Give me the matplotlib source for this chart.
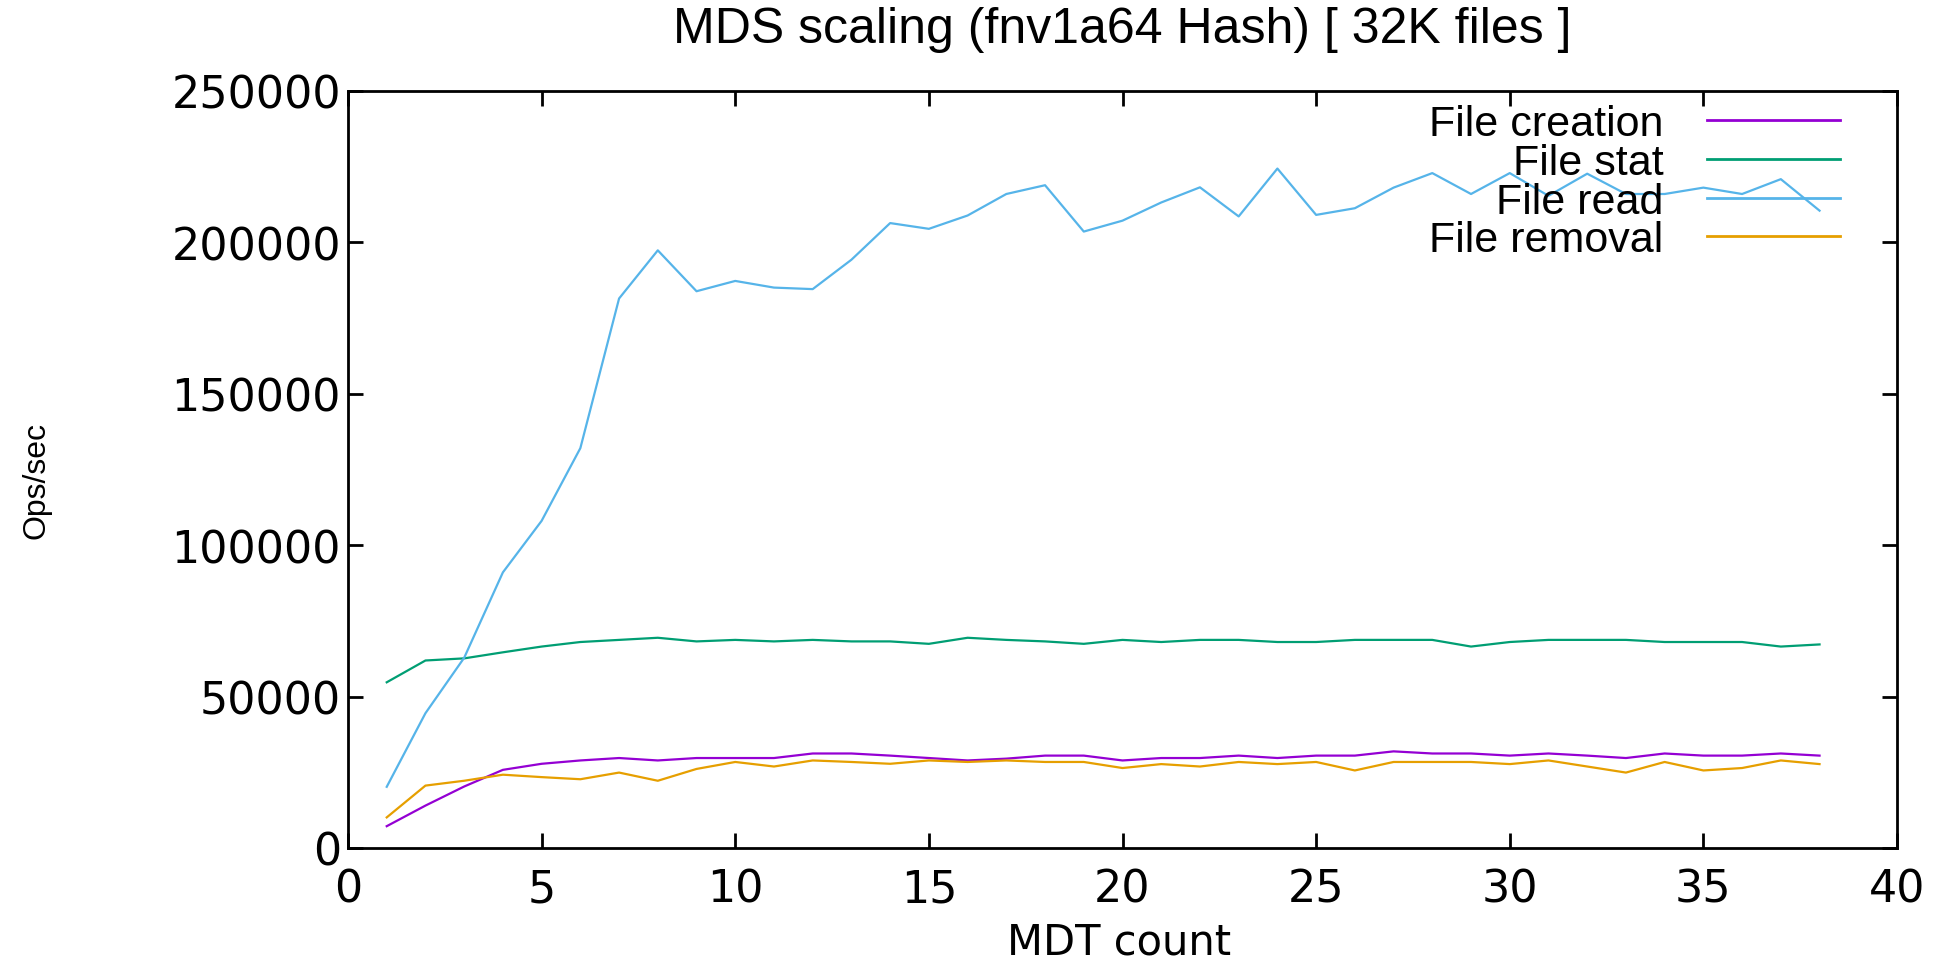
import matplotlib
matplotlib.use("Agg")
import matplotlib.pyplot as plt
from matplotlib.font_manager import FontProperties

# ---- data ----
mdt_count = list(range(1, 39))

file_creation = [7.2, 14.0, 20.3, 25.8, 27.8, 28.9, 29.7, 28.9, 29.7, 29.7,
                 29.7, 31.2, 31.2, 30.5, 29.7, 28.9, 29.5, 30.5, 30.5, 28.9,
                 29.7, 29.7, 30.5, 29.7, 30.5, 30.5, 31.9, 31.2, 31.2, 30.5,
                 31.2, 30.5, 29.7, 31.2, 30.5, 30.5, 31.2, 30.5]
file_stat = [54.7, 61.9, 62.6, 64.6, 66.5, 68.0, 68.7, 69.4, 68.2, 68.7,
             68.2, 68.7, 68.2, 68.2, 67.4, 69.4, 68.7, 68.2, 67.4, 68.7,
             68.0, 68.7, 68.7, 68.0, 68.0, 68.7, 68.7, 68.7, 66.5, 68.0,
             68.7, 68.7, 68.7, 68.0, 68.0, 68.0, 66.5, 67.2]
file_read = [20.2, 44.5, 62.8, 91.0, 108.0, 132.0, 181.4, 197.3, 183.8, 187.2,
             185.0, 184.5, 194.2, 206.3, 204.4, 208.8, 215.9, 218.8, 203.5, 207.1,
             213.1, 218.1, 208.5, 224.3, 209.0, 211.2, 218.0, 222.8, 215.9, 222.8,
             215.3, 222.6, 215.9, 215.9, 218.0, 215.9, 220.8, 210.4]
file_removal = [10.1, 20.6, 22.2, 24.2, 23.4, 22.7, 24.9, 22.2, 26.1, 28.4,
                26.9, 28.9, 28.4, 27.8, 28.9, 28.4, 28.9, 28.4, 28.4, 26.4,
                27.7, 26.9, 28.4, 27.7, 28.4, 25.6, 28.4, 28.4, 28.4, 27.7,
                28.9, 26.9, 24.9, 28.4, 25.6, 26.4, 28.9, 27.7]

series_labels = ["File creation", "File stat", "File read", "File removal"]
series_colors = ["#9400d3", "#009e73", "#56b4e9", "#e69f00"]

x_ticks = [0, 5, 10, 15, 20, 25, 30, 35, 40]
y_ticks = [0, 50000, 100000, 150000, 200000, 250000]

title_text = "MDS scaling (fnv1a64 Hash) [ 32K files ]"
x_label = "MDT count"
y_label = "Ops/sec"

# ---- figure ----
fig = plt.figure(figsize=(19.34, 9.62), dpi=100)
ax = fig.add_axes([348 / 1934, 1 - 849 / 962, 1549 / 1934, 757.3 / 962])

all_series = [file_creation, file_stat, file_read, file_removal]
for vals, lab, col in zip(all_series, series_labels, series_colors):
    ax.plot(mdt_count, [v * 1000 for v in vals], color=col, lw=1.6, label=lab)

ax.set_xlim(0, 40)
ax.set_ylim(0, 250000)
ax.set_xticks(x_ticks)
ax.set_yticks(y_ticks)
ax.set_xticklabels([str(t) for t in x_ticks], family="DejaVu Sans", fontsize=32)
ax.set_yticklabels([str(t) for t in y_ticks], family="DejaVu Sans", fontsize=32)

for s in ax.spines.values():
    s.set_linewidth(2)
    s.set_color("black")

ax.tick_params(axis="both", direction="in", length=11, width=2,
               top=True, right=True, color="black")
ax.tick_params(axis="x", pad=14)
ax.tick_params(axis="y", pad=5)

ax.set_xlabel(x_label, family="DejaVu Sans", fontsize=30)
ax.xaxis.set_label_coords(0.498, -0.123)
ax.xaxis.label.set_va("center")

ylab_fp = FontProperties(family="Liberation Sans", size=23)
ax.set_ylabel(y_label, fontproperties=ylab_fp)
ax.yaxis.label.set_fontproperties(ylab_fp)
ax.yaxis.set_label_coords(-0.2008, 0.487)
ax.yaxis.label.set_va("center")

ax.set_title(title_text, family="Liberation Sans", fontsize=36, y=1.071, va="center")

leg = ax.legend(loc="upper right", bbox_to_anchor=(0.9632, 0.982), frameon=False,
                markerfirst=False, prop={"family": "Liberation Sans", "size": 31},
                handlelength=3.1, handletextpad=1.0, labelspacing=-0.03,
                borderpad=0, borderaxespad=0)
for line in leg.get_lines():
    line.set_linewidth(2)

fig.savefig("out.png", dpi=100)
